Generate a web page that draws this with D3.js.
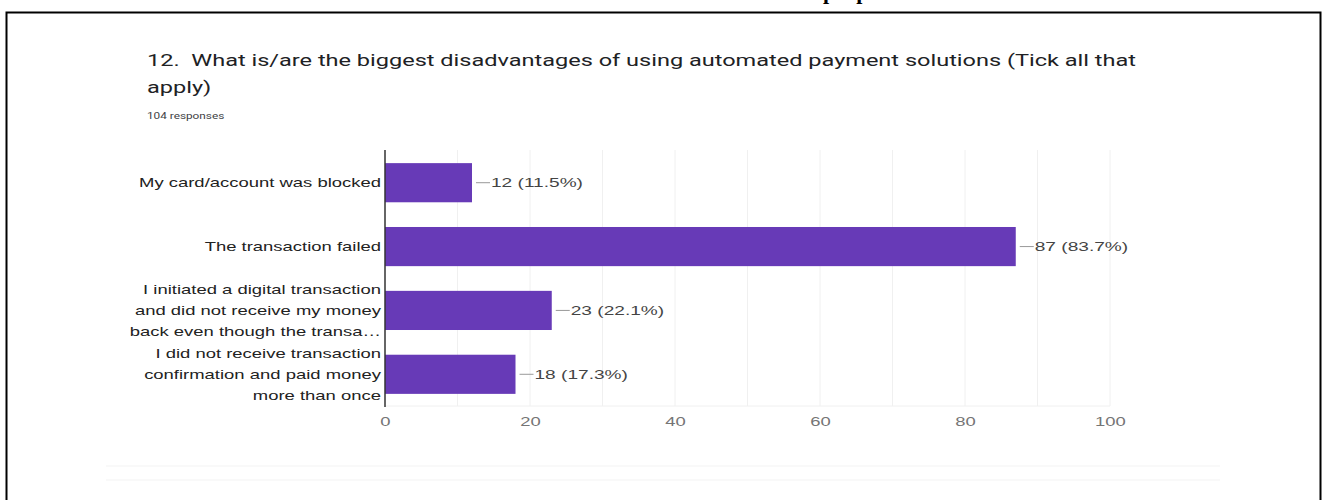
<!DOCTYPE html>
<html>
<head>
<meta charset="utf-8">
<script src="https://cdn.jsdelivr.net/npm/d3@7"></script>
<style>
  html, body { margin: 0; padding: 0; background: #fff; }
  svg { display: block; }
</style>
</head>
<body>
<svg id="chart" width="1322" height="500"></svg>
<script>
// Survey question 12: disadvantages of automated payment solutions
const categories = [
  "My card/account was blocked",
  "The transaction failed",
  "I initiated a digital transaction and did not receive my money back even though the transa…",
  "I did not receive transaction confirmation and paid money more than once"
];
const categoryLines = [
  ["My card/account was blocked"],
  ["The transaction failed"],
  ["I initiated a digital transaction", "and did not receive my money", "back even though the transa…"],
  ["I did not receive transaction", "confirmation and paid money", "more than once"]
];
const counts = [12, 87, 23, 18];
const percents = [11.5, 83.7, 22.1, 17.3];
const xTicks = [0, 20, 40, 60, 80, 100];
const titleLines = [
  "12.\u00a0 What is/are the biggest disadvantages of using automated payment solutions (Tick all that",
  "apply)"
];
const responseCount = 104;

// the chart image is laid out wide: glyphs are stretched horizontally
const SX = 1.42;
const SX_TITLE = 1.385;
const SX_VALUE = 1.47;
const sansChart = "Liberation Sans, Arial, sans-serif";
const sansTitle = "Roboto, Arial, sans-serif";

const svg = d3.select("#chart");

// page frame and the cut-off heading above it
svg.append("text")
  .attr("x", 823).attr("y", -1)
  .attr("font-family", "Liberation Serif, Times New Roman, serif")
  .attr("font-weight", "bold")
  .attr("font-size", 22)
  .attr("letter-spacing", 21)
  .attr("fill", "#000")
  .text("pp");

svg.append("path")
  .attr("d", "M6.5,500 V12.5 H1320.5 V500")
  .attr("fill", "none")
  .attr("stroke", "#000")
  .attr("stroke-width", 2);

// title block
const title = svg.append("text")
  .attr("transform", `translate(147,0) scale(${SX_TITLE},1)`)
  .attr("font-family", sansTitle)
  .attr("font-size", 17)
  .attr("fill", "#202124");
titleLines.forEach((t, i) => {
  title.append("tspan").attr("x", 0).attr("y", 66 + i * 27).text(t);
});
svg.append("text")
  .attr("transform", `translate(147,119) scale(${SX},1)`)
  .attr("font-family", sansTitle)
  .attr("font-size", 8.3)
  .attr("fill", "#3c4043")
  .text(responseCount + " responses");

// scales
const x = d3.scaleLinear().domain([0, 100]).range([385, 1110]);
const y = d3.scaleBand().domain(categories).range([151, 406])
  .paddingInner(0.387).paddingOuter(0.19);

const plot = svg.append("g");

// vertical grid lines every 10
plot.selectAll("line.grid")
  .data(x.ticks(10).filter(d => d > 0))
  .join("line")
  .attr("class", "grid")
  .attr("x1", d => x(d)).attr("x2", d => x(d))
  .attr("y1", 150).attr("y2", 406)
  .attr("stroke", "#f0f0f0").attr("stroke-width", 1);

plot.append("line")
  .attr("x1", x(0)).attr("x2", x(100))
  .attr("y1", 406).attr("y2", 406)
  .attr("stroke", "#f0f0f0");

// bars
plot.selectAll("rect.bar")
  .data(categories)
  .join("rect")
  .attr("class", "bar")
  .attr("x", x(0))
  .attr("y", d => y(d))
  .attr("width", (d, i) => x(counts[i]) - x(0))
  .attr("height", y.bandwidth())
  .attr("fill", "#673ab7");

// value labels with leader lines
const vl = plot.selectAll("g.val")
  .data(categories)
  .join("g")
  .attr("class", "val")
  .attr("transform", (d, i) => `translate(${x(counts[i])},${y(d) + y.bandwidth() / 2})`);
vl.append("line")
  .attr("x1", 4).attr("x2", 18)
  .attr("stroke", "#999").attr("stroke-width", 1);
vl.append("text")
  .attr("transform", `translate(19,0) scale(${SX_VALUE},1)`)
  .attr("dy", "0.35em")
  .attr("font-family", sansChart)
  .attr("font-size", 13)
  .attr("fill", "#444")
  .text((d, i) => `${counts[i]} (${percents[i].toFixed(1)}%)`);

// category labels
const cl = plot.selectAll("text.cat")
  .data(categories)
  .join("text")
  .attr("class", "cat")
  .attr("transform", `translate(381,0) scale(${SX},1)`)
  .attr("text-anchor", "end")
  .attr("font-family", sansChart)
  .attr("font-size", 13)
  .attr("fill", "#222");
cl.each(function (d, i) {
  const lines = categoryLines[i];
  const cy = y(d) + y.bandwidth() / 2;
  const lh = 21;
  lines.forEach((t, j) => {
    d3.select(this).append("tspan")
      .attr("x", 0)
      .attr("y", cy + (j - (lines.length - 1) / 2) * lh)
      .attr("dy", "0.35em")
      .text(t);
  });
});

// x axis
const xAxis = d3.axisBottom(x).tickValues(xTicks).tickSize(0).tickPadding(11);
const ax = plot.append("g").attr("transform", "translate(0,406)").call(xAxis);
ax.select(".domain").remove();
ax.selectAll("text")
  .attr("transform", `scale(${SX},1)`)
  .attr("font-family", sansChart)
  .attr("font-size", 13)
  .attr("fill", "#757575");

// baseline at zero
plot.append("line")
  .attr("x1", x(0)).attr("x2", x(0))
  .attr("y1", 150).attr("y2", 407)
  .attr("stroke", "#333").attr("stroke-width", 1.5);

// faint footer band
svg.append("line")
  .attr("x1", 106).attr("x2", 1220).attr("y1", 466).attr("y2", 466)
  .attr("stroke", "#f3f3f3");
svg.append("line")
  .attr("x1", 106).attr("x2", 1220).attr("y1", 480).attr("y2", 480)
  .attr("stroke", "#f3f3f3");
</script>
</body>
</html>
